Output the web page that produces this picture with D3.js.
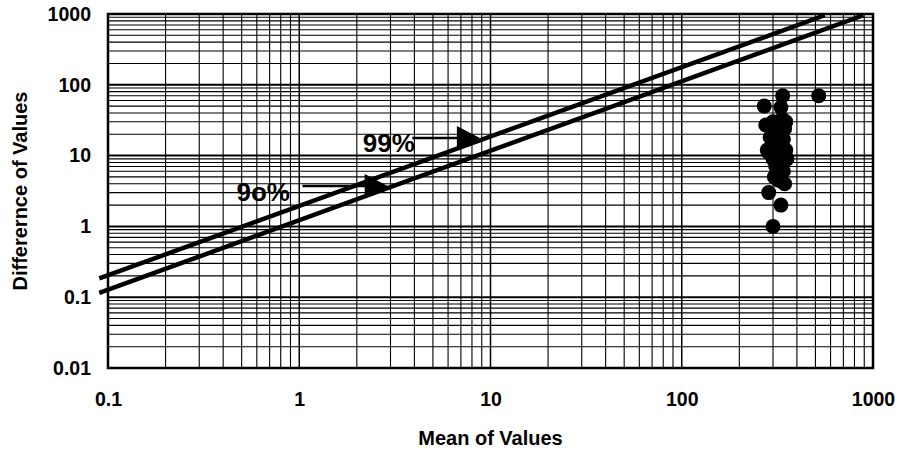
<!DOCTYPE html>
<html>
<head>
<meta charset="utf-8">
<script src="https://cdn.jsdelivr.net/npm/d3@7"></script>
<style>
  body { margin: 0; background: #fff; }
  text { font-family: 'Liberation Sans', Arial, sans-serif; font-weight: bold; }
</style>
</head>
<body>
<svg id="chart" width="899" height="453"></svg>
<script>
// tick values for both log axes
const xTicks = [0.1, 1, 10, 100, 1000];
const yTicks = [0.01, 0.1, 1, 10, 100, 1000];

// limit lines (mean, difference)
const line99 = [[0.09, 0.184], [560, 960]];
const line90 = [[0.09, 0.115], [890, 960]];

// observed points: mean, difference
const means = [270, 337, 520, 330, 275, 335, 300, 320, 345, 290, 315, 340, 295, 350, 285,
  325, 355, 300, 330, 310, 340, 305, 320, 345, 285, 330, 300, 315, 335, 305, 280, 350];
const diffs = [50, 70, 70, 48, 27, 33, 30, 22, 24, 18, 15, 17, 13, 12, 11,
  10, 9, 9, 8, 7, 6, 5, 4.5, 4, 3, 2, 1, 12, 14, 20, 12, 30];

// annotations: label, text position, arrow start, arrow tip
const notes = [
  { label: '99%', text: [2.15, 11.2], from: [3.9, 17.7], to: [8.8, 17.7] },
  { label: '9o%', text: [0.47, 2.3], from: [1.04, 3.72], to: [2.9, 3.72] }
];

const svg = d3.select('#chart'),
  margin = { top: 14, right: 26, bottom: 85, left: 108 },
  width = +svg.attr('width'),
  height = +svg.attr('height');

const x = d3.scaleLog().domain([0.1, 1000]).range([margin.left, width - margin.right]);
const y = d3.scaleLog().domain([0.01, 1000]).range([height - margin.bottom, margin.top]);

const minorsOf = ticks => {
  const out = [];
  ticks.slice(0, -1).forEach(t => d3.range(2, 10).forEach(k => out.push(t * k)));
  return out;
};

const grid = svg.append('g').attr('stroke', '#000').attr('fill', 'none');

grid.selectAll('.vminor')
  .data(minorsOf(xTicks))
  .enter()
  .append('line')
  .attr('x1', d => x(d)).attr('x2', d => x(d))
  .attr('y1', y.range()[0]).attr('y2', y.range()[1])
  .attr('stroke-width', 1.1);

grid.selectAll('.hminor')
  .data(minorsOf(yTicks))
  .enter()
  .append('line')
  .attr('y1', d => y(d)).attr('y2', d => y(d))
  .attr('x1', x.range()[0]).attr('x2', x.range()[1])
  .attr('stroke-width', 1.1);

grid.selectAll('.vmajor')
  .data(xTicks)
  .enter()
  .append('line')
  .attr('x1', d => x(d)).attr('x2', d => x(d))
  .attr('y1', y.range()[0]).attr('y2', y.range()[1])
  .attr('stroke-width', 1.5);

grid.selectAll('.hmajor')
  .data(yTicks)
  .enter()
  .append('line')
  .attr('y1', d => y(d)).attr('y2', d => y(d))
  .attr('x1', x.range()[0]).attr('x2', x.range()[1])
  .attr('stroke-width', 2);

svg.append('rect')
  .attr('x', x.range()[0])
  .attr('y', y.range()[1])
  .attr('width', x.range()[1] - x.range()[0])
  .attr('height', y.range()[0] - y.range()[1])
  .attr('fill', 'none')
  .attr('stroke', '#000')
  .attr('stroke-width', 2.5);

// axes, labels only
const xAxis = g =>
  g
    .attr('transform', `translate(0,${height - margin.bottom})`)
    .call(d3.axisBottom(x).tickValues(xTicks).tickFormat(d3.format('~g')).tickSize(0).tickPadding(24))
    .call(g => g.select('.domain').remove());

const yAxis = g =>
  g
    .attr('transform', `translate(${margin.left},0)`)
    .call(d3.axisLeft(y).tickValues(yTicks).tickFormat(d3.format('~g')).tickSize(0).tickPadding(17))
    .call(g => g.select('.domain').remove());

svg.append('g').call(xAxis);
svg.append('g').call(yAxis);

svg.selectAll('.tick text')
  .attr('font-family', '"Liberation Sans", Arial, sans-serif')
  .attr('font-weight', 'bold')
  .attr('font-size', 19.5)
  .attr('fill', '#000');

svg.append('defs')
  .append('clipPath')
  .attr('id', 'clip')
  .append('rect')
  .attr('x', 0)
  .attr('y', y.range()[1] + 1)
  .attr('width', x.range()[1])
  .attr('height', height);

const line = d3.line().x(d => x(d[0])).y(d => y(d[1]));

svg.append('g')
  .attr('clip-path', 'url(#clip)')
  .selectAll('path')
  .data([line99, line90])
  .enter()
  .append('path')
  .attr('d', line)
  .attr('fill', 'none')
  .attr('stroke', '#000')
  .attr('stroke-width', 4.5);

svg.append('g')
  .selectAll('circle')
  .data(means.map((m, i) => [m, diffs[i]]))
  .enter()
  .append('circle')
  .attr('cx', d => x(d[0]))
  .attr('cy', d => y(d[1]))
  .attr('r', 7.5)
  .attr('fill', '#000');

const ann = svg.append('g').selectAll('g').data(notes).enter().append('g');

ann.append('text')
  .attr('x', d => x(d.text[0]))
  .attr('y', d => y(d.text[1]))
  .attr('font-size', 26)
  .attr('fill', '#000')
  .text(d => d.label);

ann.append('line')
  .attr('x1', d => x(d.from[0]))
  .attr('y1', d => y(d.from[1]))
  .attr('x2', d => x(d.to[0]) - 20)
  .attr('y2', d => y(d.to[1]))
  .attr('stroke', '#000')
  .attr('stroke-width', 2.5);

ann.append('path')
  .attr('d', d => {
    const tx = x(d.to[0]), ty = y(d.to[1]);
    return `M${tx},${ty}L${tx - 23},${ty - 12}L${tx - 23},${ty + 12}Z`;
  })
  .attr('fill', '#000');

svg.append('text')
  .attr('x', (x.range()[0] + x.range()[1]) / 2)
  .attr('y', 445)
  .attr('text-anchor', 'middle')
  .attr('font-size', 20)
  .text('Mean of Values');

svg.append('text')
  .attr('transform', `translate(27,${(y.range()[0] + y.range()[1]) / 2}) rotate(-90)`)
  .attr('text-anchor', 'middle')
  .attr('font-size', 20)
  .text('Differernce of Values');
</script>
</body>
</html>
